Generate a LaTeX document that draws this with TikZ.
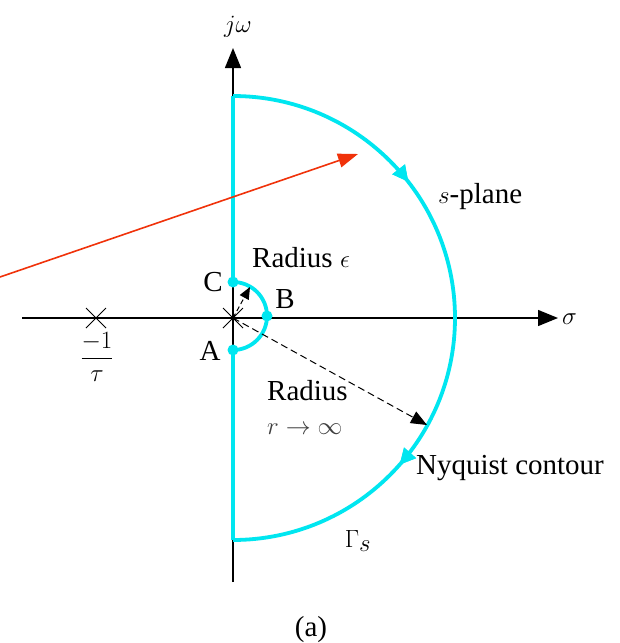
\documentclass[tikz,border=0pt]{standalone}
\usepackage{fontspec}
\setmainfont{Liberation Serif}
\usetikzlibrary{arrows.meta,decorations.markings,calc}
\definecolor{cyanline}{RGB}{0,230,240}
\definecolor{redline}{RGB}{240,50,10}
\tikzset{
  axis/.style={line width=1.4pt,-{Triangle[length=20pt,width=16pt]}},
  contour/.style={cyanline,line width=3.8pt},
  dotc/.style={circle,fill=cyanline,inner sep=0pt,minimum size=11pt},
  lbl/.style={font=\fontsize{29}{33}\selectfont,inner sep=0pt},
  mlbl/.style={font=\fontsize{33}{37}\selectfont,inner sep=0pt},
  cross/.style={line width=1pt},
  flow/.style={postaction={decorate},decoration={markings,
     mark=at position #1 with {\arrow{Triangle[length=16pt,width=15pt]}}}},
}
\begin{document}
\begin{tikzpicture}[x=1pt,y=-1pt]
\useasboundingbox[fill=white] (0,0) rectangle (620,643);
% key points
\coordinate (O) at (233,318);
\coordinate (P) at (96,318);
\coordinate (xl) at (22,318);
\coordinate (xr) at (558,318);
\coordinate (yb) at (233,582);
\coordinate (yt) at (233,48);
\coordinate (top) at (233,96);
\coordinate (bot) at (233,540);
% axes
\draw[axis] (xl) -- (xr);
\draw[axis] (yb) -- (yt);
% contour
\draw[contour] (233,282) -- (top);
\draw[contour] (bot) -- (233,350);
\draw[contour,flow=0.29,flow=0.73] (top) arc[start angle=-90,end angle=90,radius=222];
\draw[contour] (233,350) arc[start angle=90,end angle=-90,radius=34];
\node[dotc] (C) at (233,282) {};
\node[dotc] (A) at (233,350) {};
\node[dotc] (B) at (267,316) {};
% crosses
\draw[cross] ($(O)+(-10,-10)$) -- ($(O)+(10,10)$) ($(O)+(-10,10)$) -- ($(O)+(10,-10)$);
\draw[cross] ($(P)+(-10,-10)$) -- ($(P)+(10,10)$) ($(P)+(-10,10)$) -- ($(P)+(10,-10)$);
% radius arrows
\coordinate (eps) at (250,287);
\coordinate (inf) at (427,425);
\draw[line width=1pt,dash pattern=on 5pt off 3pt,-{Triangle[length=12pt,width=10pt]}] (O) -- (eps);
\draw[line width=1pt,dash pattern=on 7pt off 4pt,-{Triangle[length=16pt,width=13pt]}] (O) -- (inf);
% red arrow
\coordinate (rs) at (0,277);
\coordinate (re) at (358,154);
\draw[redline,line width=1.6pt,-{Triangle[length=20pt,width=14pt]}] (rs) -- (re);
% labels
\node[mlbl] (jw) at (238,27) {$j\omega$};
\node[mlbl,anchor=west] (sig) at (562,319) {$\sigma$};
\node[lbl] (Cl) at (213,282) {C};
\node[lbl] (Al) at (210,351) {A};
\node[lbl] (Bl) at (285,299) {B};
\node[lbl,anchor=west] (re1) at (252,258) {Radius $\epsilon$};
\node[lbl,anchor=west] (rr) at (267,391) {Radius};
\node[lbl,anchor=west,text=black!75] (rinf) at (267,429) {$r\rightarrow\infty$};
\node[lbl,anchor=west] (sp) at (438,197) {$s$-plane};
\node[lbl,anchor=west] (nc) at (416,468) {Nyquist contour};
\node[mlbl] (gs) at (358,541) {$\Gamma_s$};
\node[font=\fontsize{28}{32}\selectfont,inner sep=0pt] (tau) at (97,357) {$\displaystyle\frac{-1}{\tau}$};
\node[lbl] (cap) at (311,630) {(a)};
\end{tikzpicture}
\end{document}
